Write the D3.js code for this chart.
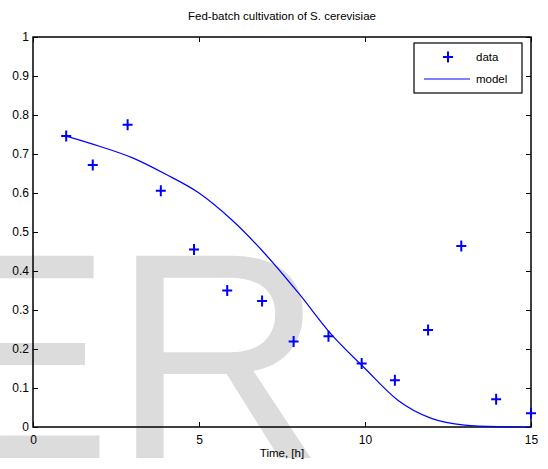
<!DOCTYPE html>
<html>
<head>
<meta charset="utf-8">
<script src="https://cdn.jsdelivr.net/npm/d3@7"></script>
<style>
  body { margin: 0; background: #fff; }
  svg { display: block; font-family: Arial, "Liberation Sans", Helvetica, sans-serif; }
  .axis text { font-size: 12px; fill: #000; }
  .axis line { stroke: #000; }
</style>
</head>
<body>
<svg id="chart"></svg>
<script>
// measured data (time in h)
var dataTime = [1, 1.8, 2.85, 3.85, 4.85, 5.85, 6.9, 7.85, 8.9, 9.9, 10.9, 11.9, 12.9, 13.95, 15];
var dataValue = [0.746, 0.672, 0.775, 0.606, 0.455, 0.35, 0.323, 0.219, 0.233, 0.163, 0.12, 0.249, 0.464, 0.071, 0.035];

// model curve
var modelTime = [1, 2, 3, 4, 5, 6, 7, 8, 9, 10, 11, 12, 13, 14, 15];
var modelValue = [0.746, 0.72, 0.69, 0.648, 0.6, 0.53, 0.443, 0.343, 0.236, 0.15, 0.068, 0.022, 0.005, 0.001, 0];

var xTicks = [0, 5, 10, 15];
var yTicks = [0, 0.1, 0.2, 0.3, 0.4, 0.5, 0.6, 0.7, 0.8, 0.9, 1];

var chartTitle = "Fed-batch cultivation of S. cerevisiae";
var xLabel = "Time, [h]";
var legendNames = ["data", "model"];

var W = 548, H = 469;
var margin = {top: 37, right: 17, bottom: 42, left: 33};
var width = W - margin.left - margin.right;
var height = H - margin.top - margin.bottom;
var blue = "#0000ff";

var svg = d3.select("#chart").attr("width", W).attr("height", H);

/*watermark behind everything*/
svg.append("text")
	.attr("x", -84)
	.attr("y", 458)
	.style("font-size", "294px")
	.style("fill", "#dcdcdc")
	.text("ER");

var g = svg.append("g").attr("transform", "translate(" + margin.left + "," + margin.top + ")");

var xScale = d3.scaleLinear().domain([0, 15]).range([0, width]);
var yScale = d3.scaleLinear().domain([0, 1]).range([height, 0]);

var fmt = function(d) { return d3.format("")(+d.toFixed(1)); };

/*Axes, MATLAB style ticks pointing inward*/
g.append("g").attr("class", "axis")
	.attr("transform", "translate(0," + height + ")")
	.call(d3.axisBottom(xScale).tickValues(xTicks).tickSizeInner(-5).tickSizeOuter(0).tickPadding(8).tickFormat(d3.format("d")));
g.append("g").attr("class", "axis")
	.call(d3.axisLeft(yScale).tickValues(yTicks).tickSizeInner(-5).tickSizeOuter(0).tickPadding(4).tickFormat(fmt));
g.append("g").attr("class", "axis")
	.call(d3.axisTop(xScale).tickValues(xTicks).tickSizeInner(-5).tickSizeOuter(0).tickFormat(""));
g.append("g").attr("class", "axis")
	.attr("transform", "translate(" + width + ",0)")
	.call(d3.axisRight(yScale).tickValues(yTicks).tickSizeInner(-5).tickSizeOuter(0).tickFormat(""));
g.selectAll(".axis .domain").remove();

g.append("rect")
	.attr("width", width).attr("height", height)
	.attr("fill", "none").attr("stroke", "#000").attr("stroke-width", 1.5);

/*model line*/
var modelData = modelTime.map(function(t, i) { return {t: t, v: modelValue[i]}; });
var line = d3.line()
	.curve(d3.curveMonotoneX)
	.x(function(d) { return xScale(d.t); })
	.y(function(d) { return yScale(d.v); });
g.append("path").datum(modelData)
	.attr("d", line)
	.attr("fill", "none").attr("stroke", blue).attr("stroke-width", 1.2);

/*data markers*/
var plus = "M-5,0H5M0,-5.5V5.5";
g.selectAll(".pt").data(dataTime)
	.enter().append("path")
	.attr("class", "pt")
	.attr("transform", function(d, i) { return "translate(" + xScale(d) + "," + yScale(dataValue[i]) + ")"; })
	.attr("d", plus)
	.attr("stroke", blue).attr("stroke-width", 2).attr("fill", "none");

/*title and label*/
svg.append("text")
	.attr("x", margin.left + width / 2).attr("y", 20)
	.attr("text-anchor", "middle").style("font-size", "11.5px")
	.text(chartTitle);
svg.append("text")
	.attr("x", margin.left + width / 2).attr("y", 457)
	.attr("text-anchor", "middle").style("font-size", "11.5px")
	.text(xLabel);

/*legend*/
var lg = svg.append("g").attr("transform", "translate(414,43)");
lg.append("rect").attr("width", 108).attr("height", 50)
	.attr("fill", "#fff").attr("stroke", "#000").attr("stroke-width", 1.2);
lg.append("path").attr("d", plus)
	.attr("transform", "translate(34,14)")
	.attr("stroke", blue).attr("stroke-width", 2);
lg.append("line").attr("x1", 10).attr("x2", 56).attr("y1", 36).attr("y2", 36)
	.attr("stroke", blue).attr("stroke-width", 1.2);
lg.selectAll(".lt").data(legendNames).enter().append("text")
	.attr("x", 62).attr("y", function(d, i) { return 18 + i * 22; })
	.style("font-size", "11.5px")
	.text(function(d) { return d; });
</script>
</body>
</html>
